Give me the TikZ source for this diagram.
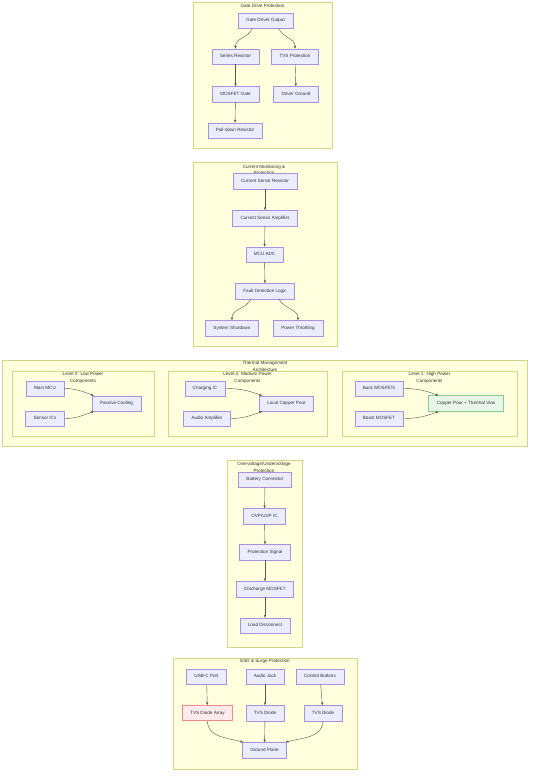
\documentclass[tikz,border=0pt]{standalone}
\usepackage{fontspec}
\setmainfont{Liberation Sans}
\usetikzlibrary{arrows.meta}
\definecolor{nfill}{HTML}{ECECFF}
\definecolor{nline}{HTML}{A892E0}
\definecolor{cfill}{HTML}{FFFFDE}
\definecolor{cline}{HTML}{D6D68A}
\definecolor{txt}{HTML}{333333}
\definecolor{gfill}{HTML}{E8F5E9}
\definecolor{gline}{HTML}{8CCB8E}
\definecolor{rfill}{HTML}{FFEBEE}
\definecolor{rline}{HTML}{F08A8A}
\definecolor{eline}{HTML}{555555}
\tikzset{
  box/.style={draw=nline, fill=nfill, line width=0.4pt, inner xsep=8pt, inner ysep=5.5pt,
    text height=3.4pt, text depth=1pt},
  greenbox/.style={box, draw=gline, fill=gfill, line width=0.8pt},
  redbox/.style={box, draw=rline, fill=rfill, line width=0.8pt},
  cluster/.style={draw=cline, fill=cfill, line width=0.4pt},
  ctitle/.style={inner sep=0pt, align=center},
  conn/.style={draw=eline, line width=0.4pt, -{Triangle[length=2.6pt,width=2.2pt]}},
}
\begin{document}
\begin{tikzpicture}[x=1pt,y=-1pt, font=\fontsize{4.6}{6.8}\selectfont, text=txt]
\useasboundingbox[fill=white] (0,0) rectangle (534,776);

% ---------- Gate Drive Protection ----------
\draw[cluster] (193,2) rectangle (332,148);
\node[ctitle] (t1) at (262.5,6) {Gate Drive Protection};
\node[box] (gdo) at (265.5,20.5) {Gate Driver Output};
\node[box] (sr) at (235.5,56.5) {Series Resistor};
\node[box] (tvsp) at (295,56.5) {TVS Protection};
\node[box] (mg) at (235.5,94) {MOSFET Gate};
\node[box] (dg) at (296,94) {Driver Ground};
\node[box] (pdr) at (235,130.5) {Pull-down Resistor};
\draw[conn] ([xshift=-13pt]gdo.south) to[out=-115,in=90] (sr.north);
\draw[conn] ([xshift=13pt]gdo.south) to[out=-65,in=90] (tvsp.north);
\draw[conn] (sr) -- (mg);
\draw[conn] (mg) -- (pdr);
\draw[conn] (tvsp) -- (dg);

% ---------- Current Monitoring ----------
\draw[cluster] (193,162) rectangle (337,346);
\node[ctitle] (t2) at (264,169.8) {Current Monitoring \&\\Protection};
\node[box] (csr) at (265,181) {Current Sense Resistor};
\node[box] (csa) at (265,218) {Current Sense Amplifier};
\node[box] (adc) at (264.5,254.5) {MCU ADC};
\node[box] (fdl) at (265,291) {Fault Detection Logic};
\node[box] (ss) at (232,328) {System Shutdown};
\node[box] (pt) at (298,328) {Power Throttling};
\draw[conn] (csr) -- (csa);
\draw[conn] (csa) -- (adc);
\draw[conn] (adc) -- (fdl);
\draw[conn] ([xshift=-14pt]fdl.south) to[out=-115,in=90] (ss.north);
\draw[conn] ([xshift=14pt]fdl.south) to[out=-65,in=90] (pt.north);

% ---------- Thermal Management ----------
\draw[cluster] (2,360) rectangle (527,446);
\node[ctitle] (t3) at (265,366.2) {Thermal Management\\Architecture};
\draw[cluster] (12,371) rectangle (154,436);
\node[ctitle] (t3a) at (83,377.5) {Level 3: Low Power\\Components};
\draw[cluster] (168,371) rectangle (327,436);
\node[ctitle] (t3b) at (247.5,377.5) {Level 2: Medium Power\\Components};
\draw[cluster] (342,371) rectangle (517,436);
\node[ctitle] (t3c) at (429.5,377.5) {Level 1: High Power\\Components};
\node[box] (mcu) at (45,388.5) {Main MCU};
\node[box] (sic) at (45,418.5) {Sensor ICs};
\node[box] (pc) at (116.5,403.5) {Passive Cooling};
\node[box] (chg) at (205,388.5) {Charging IC};
\node[box] (amp) at (207,418.5) {Audio Amplifier};
\node[box] (lcp) at (286.5,403.5) {Local Copper Pour};
\node[box] (buck) at (379,388.5) {Buck MOSFETs};
\node[box] (boost) at (379,418.5) {Boost MOSFET};
\node[greenbox] (cptv) at (466,403.5) {Copper Pour + Thermal Vias};
\draw[conn] (mcu.east) to[out=0,in=160] ([xshift=2pt]pc.north west);
\draw[conn] (sic.east) to[out=0,in=200] ([xshift=2pt]pc.south west);
\draw[conn] (chg.east) to[out=0,in=160] ([xshift=3pt]lcp.north west);
\draw[conn] (amp.east) to[out=0,in=200] ([xshift=3pt]lcp.south west);
\draw[conn] (buck.east) to[out=0,in=160] ([xshift=10pt]cptv.north west);
\draw[conn] (boost.east) to[out=0,in=200] ([xshift=10pt]cptv.south west);

% ---------- OVP/UVP ----------
\draw[cluster] (227,460) rectangle (302,647);
\node[ctitle] (t4) at (264,467.5) {Overvoltage/Undervoltage\\Protection};
\node[box] (bc) at (265,479.5) {Battery Connector};
\node[box] (ovp) at (264.5,516) {OVP/UVP IC};
\node[box] (ps) at (265,552) {Protection Signal};
\node[box] (dm) at (265,589) {Discharge MOSFET};
\node[box] (ld) at (265,625.5) {Load Disconnect};
\draw[conn] (bc) -- (ovp);
\draw[conn] (ovp) -- (ps);
\draw[conn] (ps) -- (dm);
\draw[conn] (dm) -- (ld);

% ---------- ESD ----------
\draw[cluster] (173,658) rectangle (357,769);
\node[ctitle] (t5) at (265,661.5) {ESD \& Surge Protection};
\node[box] (usb) at (206.5,676.5) {USB-C Port};
\node[box] (aj) at (265,676.5) {Audio Jack};
\node[box] (cb) at (320,676.5) {Control Buttons};
\node[redbox] (tda) at (207.5,713) {TVS Diode Array};
\node[box] (tvs2) at (265,713) {TVS Diode};
\node[box] (tvs3) at (323,713) {TVS Diode};
\node[box] (gp) at (264.5,750) {Ground Plane};
\draw[conn] (usb) -- (tda);
\draw[conn] (aj) -- (tvs2);
\draw[conn] (cb) -- (tvs3);
\draw[conn] (tda.south) to[out=-90,in=165] ([xshift=1pt]gp.north west);
\draw[conn] (tvs2) -- (gp);
\draw[conn] (tvs3.south) to[out=-90,in=15] ([xshift=-1pt]gp.north east);
\end{tikzpicture}
\end{document}
